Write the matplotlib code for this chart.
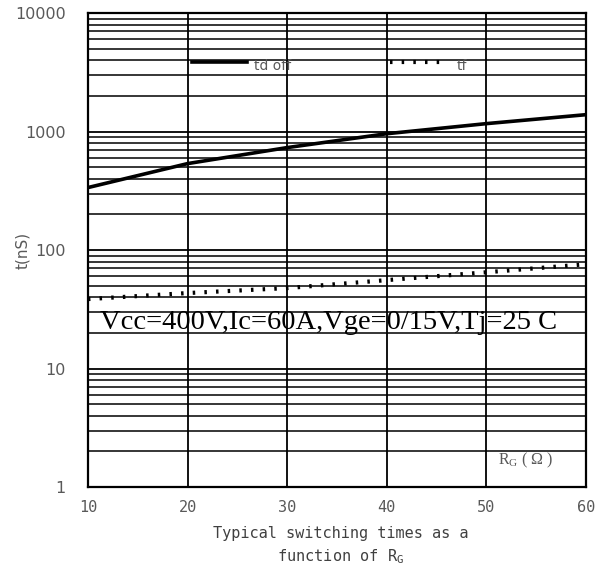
import matplotlib
matplotlib.use('Agg')
import matplotlib.pyplot as plt
import numpy as np

rg = [10, 20, 30, 40, 50, 60]
td_off = [337, 537, 733, 960, 1168, 1390]
tf = [38.6, 43.4, 47.8, 55.8, 65, 76]
y_ticks = [1, 10, 100, 1000, 10000]
x_ticks = [10, 20, 30, 40, 50, 60]

grey = '#595959'
dots = (0, (0.6, 2.2))

fig = plt.figure(figsize=(5.98, 5.71), dpi=100)
ax = fig.add_axes([0.147, 0.147, 0.833, 0.830])

ax.set_yscale('log')
ax.set_xlim(10, 60)
ax.set_ylim(1, 10000)

# grid lines like the original sheet
ax.grid(True, which='major', color='black', lw=1.3)
ax.grid(True, which='minor', axis='y', color='black', lw=1.1)
ax.set_axisbelow(True)
for s in ax.spines.values():
    s.set_linewidth(1.6)

ax.plot(rg, td_off, '-', color='black', lw=2.6)
ax.plot(rg, tf, color='black', lw=3, linestyle=dots)

ax.set_xticks(x_ticks)
ax.set_yticks(y_ticks)
ax.set_yticklabels([str(v) for v in y_ticks])
ax.tick_params(which='both', length=0)
ax.tick_params(axis='y', labelsize=11.5, labelcolor=grey, pad=16)
ax.tick_params(axis='x', labelsize=11, labelcolor=grey, pad=9)
for lab in ax.get_xticklabels():
    lab.set_family('DejaVu Sans Mono')
ax.yaxis.set_minor_formatter(matplotlib.ticker.NullFormatter())

# legend drawn as in the source sheet
ax.plot([20.4, 26.0], [3900, 3900], '-', color='black', lw=2.6)
ax.text(26.7, 3550, 'td off', fontsize=10, color=grey, va='center')
ax.plot([40.3, 45.9], [3900, 3900], color='black', lw=3, linestyle=dots)
ax.text(47.0, 3550, 'tf', fontsize=10, color=grey, va='center')

ax.text(11.2, 24.5, 'Vcc=400V,Ic=60A,Vge=0/15V,Tj=25 C', fontsize=20.5,
        family='Liberation Serif', color='black', va='center')
ax.text(51.2, 1.68, 'R$_\\mathregular{G}$ ( \u03a9 )', fontsize=11.5,
        family='Liberation Serif', color=grey, va='center')

ax.set_ylabel('t(nS)', fontsize=11, color=grey, labelpad=0)
ax.yaxis.set_label_coords(-0.115, 0.5)

fig.text(0.57, 0.043, 'Typical switching times as a\nfunction of R$_\\mathregular{G}$',
         ha='center', va='center', fontsize=11, family='DejaVu Sans Mono',
         color='#404040', linespacing=1.45)

fig.savefig('out.png', dpi=100)
